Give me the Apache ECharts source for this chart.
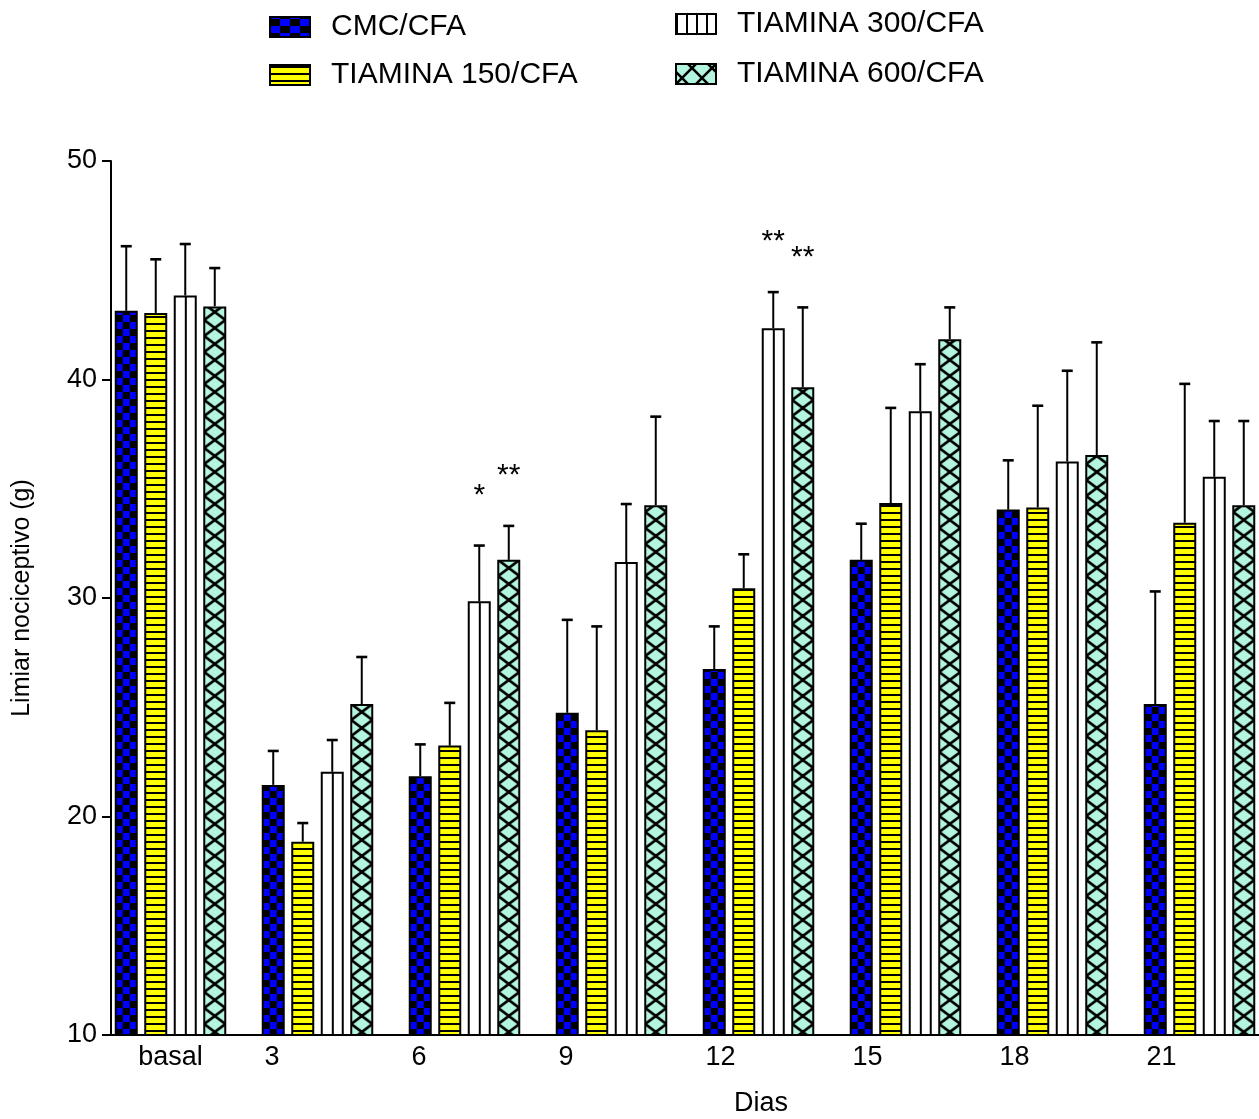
<!DOCTYPE html>
<html>
<head>
<meta charset="utf-8">
<script src="https://cdn.jsdelivr.net/npm/echarts@6/dist/echarts.min.js"></script>
<style>
  html, body { margin: 0; padding: 0; background: #ffffff; }
  #chart { width: 1259px; height: 1119px; }
</style>
</head>
<body>
<div id="chart"></div>
<script>
// Mechanical nociceptive threshold (g) over days, mean with upper SEM bar
const categories = ['basal', '3', '6', '9', '12', '15', '18', '21'];
const seriesNames = ['CMC/CFA', 'TIAMINA 150/CFA', 'TIAMINA 300/CFA', 'TIAMINA 600/CFA'];

const cmcMean   = [43.1, 21.4, 21.8, 24.7, 26.7, 31.7, 34.0, 25.1];
const cmcUpper  = [46.1, 23.0, 23.3, 29.0, 28.7, 33.4, 36.3, 30.3];
const t150Mean  = [43.0, 18.8, 23.2, 23.9, 30.4, 34.3, 34.1, 33.4];
const t150Upper = [45.5, 19.7, 25.2, 28.7, 32.0, 38.7, 38.8, 39.8];
const t300Mean  = [43.8, 22.0, 29.8, 31.6, 42.3, 38.5, 36.2, 35.5];
const t300Upper = [46.2, 23.5, 32.4, 34.3, 44.0, 40.7, 40.4, 38.1];
const t600Mean  = [43.3, 25.1, 31.7, 34.2, 39.6, 41.8, 36.5, 34.2];
const t600Upper = [45.1, 27.3, 33.3, 38.3, 43.3, 43.3, 41.7, 38.1];

// significance marks above each group member
const cmcStars  = ['', '', '', '', '', '', '', ''];
const t150Stars = ['', '', '', '', '', '', '', ''];
const t300Stars = ['', '', '*', '', '**', '', '', ''];
const t600Stars = ['', '', '**', '', '**', '', '', ''];

const yMin = 10, yMax = 50, yStep = 10;

const FONT = "'Liberation Sans', Arial, Helvetica, sans-serif";

// layout of the grouped bars: group centres sit on the category ticks
const PLOT_TOP = 161, PLOT_BOTTOM = 84;
const FIRST_CENTER = 170.5, BAND = 147;
const BAR_W = 21, BAR_GAP = 0.405;
const PITCH = BAR_W * (1 + BAR_GAP);
function barOffset(i) { return (i - 1.5) * PITCH; }
function firstBarLeft(i) { return FIRST_CENTER + barOffset(i) - BAR_W / 2; }
const lastCenter = FIRST_CENTER + BAND * (categories.length - 1);

// fill patterns
function makeTile(w, h, draw) {
  const c = document.createElement('canvas');
  c.width = w; c.height = h;
  draw(c.getContext('2d'), w, h);
  return c;
}
const checkerTile = makeTile(14, 14, (g, w, h) => {
  g.fillStyle = '#000000'; g.fillRect(0, 0, w, h);
  g.fillStyle = '#0000ff'; g.fillRect(0, 0, 7, 7); g.fillRect(7, 7, 7, 7);
});
const legendCheckerTile = makeTile(20, 14, (g, w, h) => {
  g.fillStyle = '#000000'; g.fillRect(0, 0, w, h);
  g.fillStyle = '#0000ff'; g.fillRect(0, 0, 10, 7); g.fillRect(10, 7, 10, 7);
});
const stripeTile = makeTile(7, 7, (g, w, h) => {
  g.fillStyle = '#ffff00'; g.fillRect(0, 0, w, h);
  g.fillStyle = '#000000'; g.fillRect(0, 0, w, 2);
});
function verticalTile(w) {
  return makeTile(w, 4, (g, ww, h) => {
    g.fillStyle = '#ffffff'; g.fillRect(0, 0, ww, h);
    g.fillStyle = '#000000'; g.fillRect(Math.round(ww / 2) - 1, 0, 2, h);
  });
}
function crossTile(w, h) {
  return makeTile(w, h, (g, ww, hh) => {
    g.fillStyle = '#b3f5df'; g.fillRect(0, 0, ww, hh);
    g.strokeStyle = '#000000'; g.lineWidth = 2.6;
    g.beginPath();
    g.moveTo(-ww, -hh); g.lineTo(2 * ww, 2 * hh);
    g.moveTo(2 * ww, -hh); g.lineTo(-ww, 2 * hh);
    g.stroke();
  });
}
const barVerticalTile = verticalTile(21);
const legendVerticalTile = verticalTile(10);
const barCrossTile = crossTile(21, 16);
const legendCrossTile = crossTile(20, 20);

const fills = [
  { image: checkerTile, repeat: 'repeat', x: firstBarLeft(0), y: 0 },
  { image: stripeTile, repeat: 'repeat', x: 0, y: 1 },
  { image: barVerticalTile, repeat: 'repeat', x: firstBarLeft(2), y: 0 },
  { image: barCrossTile, repeat: 'repeat', x: firstBarLeft(3), y: 0 }
];
const legendFills = [
  { image: legendCheckerTile, repeat: 'repeat', x: 270, y: 16 },
  { image: stripeTile, repeat: 'repeat', x: 0, y: 1 },
  { image: legendVerticalTile, repeat: 'repeat', x: 676, y: 0 },
  { image: legendCrossTile, repeat: 'repeat', x: 676, y: 64 }
];

const means = [cmcMean, t150Mean, t300Mean, t600Mean];
const uppers = [cmcUpper, t150Upper, t300Upper, t600Upper];
const stars = [cmcStars, t150Stars, t300Stars, t600Stars];

// each group member: a bar from the axis floor to the mean, an upper error
// whisker with cap, and an optional significance mark above the whisker
const groupSeries = seriesNames.map((name, i) => ({
  name: name,
  type: 'custom',
  xAxisIndex: 1,
  yAxisIndex: 1,
  clip: false,
  z: 2,
  silent: true,
  itemStyle: { color: fills[i], borderColor: '#000000', borderWidth: 2 },
  data: categories.map((c, k) => [k, means[i][k], uppers[i][k]]),
  renderItem: function (params, api) {
    const k = api.value(0);
    const floor = api.coord([k, yMin]);
    const base = api.coord([k, api.value(1)]);
    const top = api.coord([k, api.value(2)]);
    const x = base[0] + barOffset(i);
    const children = [
      { type: 'rect',
        shape: { x: x - BAR_W / 2, y: base[1], width: BAR_W, height: floor[1] - base[1] },
        style: { fill: fills[i], stroke: '#000000', lineWidth: 2 } },
      { type: 'line', shape: { x1: x, y1: base[1] - 1, x2: x, y2: top[1] },
        style: { stroke: '#000000', lineWidth: 2 } },
      { type: 'line', shape: { x1: x - 5.5, y1: top[1], x2: x + 5.5, y2: top[1] },
        style: { stroke: '#000000', lineWidth: 2.6 } }
    ];
    const mark = stars[i][k];
    if (mark) {
      children.push({
        type: 'text',
        x: x, y: top[1] - 50,
        style: { text: mark, font: '30px ' + FONT, fill: '#000000', align: 'center', verticalAlign: 'middle' }
      });
    }
    return { type: 'group', children: children };
  }
}));

const legendText = { fontSize: 30, fontFamily: FONT, color: '#000000', padding: [0, 0, 0, 16] };
function legendItems(ids) {
  return ids.map(i => ({ name: seriesNames[i], icon: 'rect',
    itemStyle: { color: legendFills[i], borderColor: '#000000', borderWidth: 2 } }));
}

const chart = echarts.init(document.getElementById('chart'), null, { renderer: 'canvas' });
chart.setOption({
  backgroundColor: '#ffffff',
  animation: false,
  legend: [
    { orient: 'vertical', left: 264, top: 7, itemGap: 18, itemWidth: 40, itemHeight: 20,
      selectedMode: false, textStyle: legendText, data: legendItems([0, 1]) },
    { orient: 'vertical', left: 670, top: 4, itemGap: 20, itemWidth: 40, itemHeight: 20,
      selectedMode: false, textStyle: legendText, data: legendItems([2, 3]) }
  ],
  grid: [
    { left: 111, right: 0, top: PLOT_TOP, bottom: PLOT_BOTTOM,
      containLabel: false, outerBoundsMode: 'none' },
    { left: FIRST_CENTER, width: lastCenter - FIRST_CENTER, top: PLOT_TOP, bottom: PLOT_BOTTOM,
      containLabel: false, outerBoundsMode: 'none' }
  ],
  xAxis: [
    { gridIndex: 0, type: 'value', min: 0, max: 1,
      axisLine: { show: true, onZero: false, lineStyle: { color: '#000000', width: 2 } },
      axisTick: { show: false }, axisLabel: { show: false }, splitLine: { show: false },
      name: 'Dias', nameLocation: 'middle', nameGap: 55,
      nameTextStyle: { fontSize: 27, fontFamily: FONT, color: '#000000', padding: [0, 0, 0, 152] } },
    { gridIndex: 1, type: 'category', data: categories, boundaryGap: false,
      axisLine: { show: false }, axisTick: { show: false }, splitLine: { show: false },
      axisLabel: {
        margin: 9, color: '#000000', fontSize: 27, fontFamily: FONT,
        formatter: function (v) { return v === 'basal' ? v : '{n|' + v + '}'; },
        rich: { n: { width: 106, align: 'left', fontSize: 27, fontFamily: FONT, color: '#000000' } }
      } }
  ],
  yAxis: [
    { gridIndex: 0, type: 'value', min: yMin, max: yMax, interval: yStep,
      axisLine: { show: true, lineStyle: { color: '#000000', width: 2 } },
      axisTick: { show: true, length: 9, lineStyle: { color: '#000000', width: 2 } },
      axisLabel: { margin: 14, color: '#000000', fontSize: 27, fontFamily: FONT },
      splitLine: { show: false },
      name: 'Limiar nociceptivo (g)', nameLocation: 'middle', nameGap: 76, nameRotate: 90,
      nameTextStyle: { fontSize: 25, fontFamily: FONT, color: '#000000' } },
    { gridIndex: 1, type: 'value', min: yMin, max: yMax, interval: yStep, show: false }
  ],
  series: groupSeries
});
</script>
</body>
</html>
